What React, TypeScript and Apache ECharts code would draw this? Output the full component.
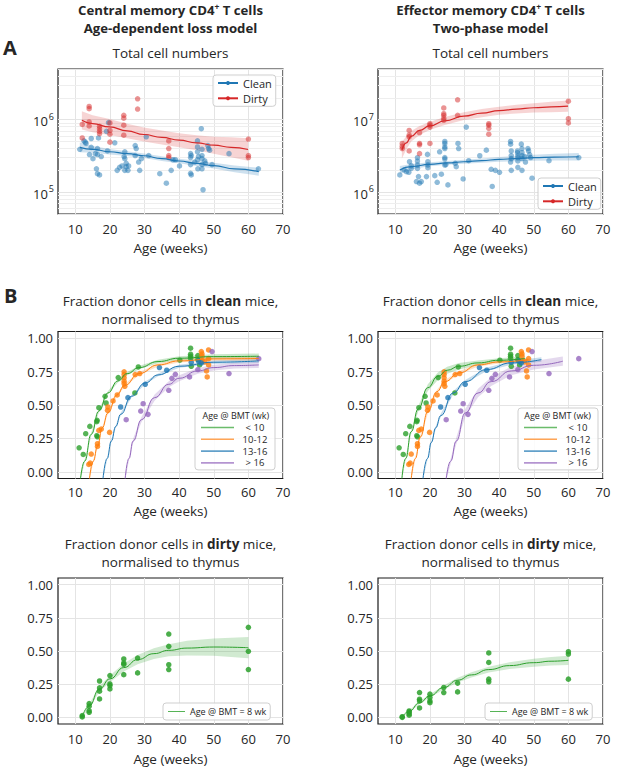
import React, { useEffect, useRef } from 'react';
import * as echarts from 'echarts';

const FONT = 'Open Sans';
const INK = '#262626';
const GRID = '#e4e4e4';
const MINOR = '#eeeeee';
const BLUE = '#1f77b4';
const RED = '#d62728';
const GREEN = '#2ca02c';
const ORANGE = '#ff7f0e';
const PURPLE = '#9467bd';

// ---------- tick values ----------
const xTicks = [10, 20, 30, 40, 50, 60, 70];
const fracTicks = [0, 0.25, 0.5, 0.75, 1];
const minorCM = [6e4, 7e4, 8e4, 9e4, 2e5, 3e5, 4e5, 5e5, 6e5, 7e5, 8e5, 9e5, 2e6, 3e6, 4e6];
const minorEM = [6e5, 7e5, 8e5, 9e5, 2e6, 3e6, 4e6, 5e6, 6e6, 7e6, 8e6, 9e6, 2e7, 3e7, 4e7];

// ---------- Panel A left: central memory total numbers ----------
const cmCleanPts = [
  [11.3, 3.9e5], [12.5, 5.1e5], [13.1, 4.7e5], [12.9, 4.9e5], [14.6, 5.5e5], [14.6, 4.15e5], [14.1, 3.3e5],
  [15.1, 2.9e5], [15.8, 3.4e5], [16.4, 4.0e5], [16.4, 3.3e5], [16.7, 5.6e5], [17.5, 3.1e5], [16.1, 2.1e5],
  [16.4, 1.8e5], [17.0, 1.73e5], [19.0, 6.9e5], [19.3, 3.7e5], [19.6, 9.1e5], [21.4, 4.8e5], [22.1, 2.0e5],
  [22.8, 2.2e5], [23.5, 2.3e5], [24.1, 3.1e5], [24.3, 3.6e5], [24.3, 2.9e5], [24.3, 2.0e5], [24.7, 2.5e5],
  [24.7, 2.25e5], [25.2, 2.0e5], [25.4, 2.3e5], [27.3, 4.4e5], [27.6, 4.0e5], [27.3, 3.2e5], [28.3, 2.6e5],
  [28.6, 2.0e5], [29.1, 2.9e5], [30.5, 5.8e5], [31.2, 3.2e5], [34.4, 1.8e5], [36.3, 1.33e5], [37.7, 2.0e5],
  [38.2, 2.8e5], [38.9, 2.8e5], [40.1, 2.3e5], [43.3, 3.4e5], [43.3, 3.0e5], [43.5, 3.2e5], [43.3, 2.4e5],
  [43.3, 1.82e5], [43.5, 1.73e5], [44.5, 2.6e5], [45.3, 5.1e5], [45.3, 4.2e5], [45.3, 3.6e5], [45.3, 2.8e5],
  [45.4, 2.1e5], [45.6, 3.1e5], [46.4, 7.5e5], [46.6, 3.9e5], [46.6, 3.2e5], [46.6, 2.9e5], [46.6, 2.4e5],
  [46.6, 2.1e5], [46.9, 1.08e5], [47.4, 2.7e5], [47.6, 2.5e5], [48.3, 4.4e5], [48.5, 4.0e5], [48.8, 3.8e5],
  [49.5, 2.4e5], [54.4, 3.4e5], [62.9, 2.1e5],
];
const cmDirtyPts = [
  [12, 8.6e5], [12, 5.6e5], [14, 1.52e6], [14, 1.42e6], [14, 9.3e5], [14, 8.2e5], [17, 8.1e5], [17, 7.5e5],
  [17, 6.9e5], [17, 6.4e5], [20, 9.0e5], [20, 7.1e5], [20, 6.3e5], [20, 4.9e5], [24, 1.15e6], [24, 1.05e6],
  [24, 8.4e5], [24, 6.1e5], [28, 1.94e6], [28, 1.4e6], [37, 5.1e5], [37, 4.0e5], [37, 3.2e5], [37, 3.0e5],
  [60, 5.4e5], [60, 3.2e5], [60, 3.0e5],
];
const cmCleanFitX = [11.3, 15, 19.9, 25, 29.8, 35, 40, 45, 50, 56, 63];
const cmCleanFitY = [4.14e5, 3.9e5, 3.61e5, 3.4e5, 3.18e5, 2.9e5, 2.69e5, 2.5e5, 2.32e5, 2.1e5, 1.92e5];
const cmCleanFitLo = [3.54e5, 3.51e5, 3.32e5, 3.15e5, 2.96e5, 2.7e5, 2.5e5, 2.3e5, 2.12e5, 1.89e5, 1.69e5];
const cmCleanFitHi = [4.85e5, 4.33e5, 3.93e5, 3.67e5, 3.42e5, 3.12e5, 2.9e5, 2.71e5, 2.54e5, 2.33e5, 2.18e5];
const cmDirtyFitX = [11.9, 15, 19.9, 25, 29.8, 35, 40, 45, 50, 55, 59.9];
const cmDirtyFitY = [9.8e5, 8.8e5, 7.94e5, 7.0e5, 6.24e5, 5.7e5, 5.21e5, 4.8e5, 4.45e5, 4.15e5, 3.88e5];
const cmDirtyFitLo = [7.3e5, 6.7e5, 6.15e5, 5.55e5, 5.0e5, 4.55e5, 4.17e5, 3.78e5, 3.4e5, 3.03e5, 2.71e5];
const cmDirtyFitHi = [1.31e6, 1.15e6, 1.02e6, 8.8e5, 7.8e5, 7.1e5, 6.5e5, 6.1e5, 5.8e5, 5.7e5, 5.55e5];

// ---------- Panel A right: effector memory total numbers ----------
const emCleanPts = [
  [11.3, 1.73e6], [12.5, 2.03e6], [13.2, 1.92e6], [13.9, 1.88e6], [14.1, 2.63e6], [14.6, 2.13e6], [14.6, 2.32e6],
  [16.4, 2.99e6], [16.4, 2.69e6], [16.4, 2.37e6], [16.4, 2.13e6], [16.7, 1.64e6], [16.1, 1.4e6], [17.0, 1.33e6],
  [17.5, 1.4e6], [19.0, 1.64e6], [19.3, 3.32e6], [19.4, 2.63e6], [19.4, 2.37e6], [19.4, 2.18e6], [21.4, 1.69e6],
  [22.1, 1.37e6], [22.8, 3.6e6], [23.3, 1.77e6], [24.3, 5.0e6], [24.3, 4.7e6], [24.3, 4.2e6], [24.3, 4.0e6],
  [24.3, 3.0e6], [24.3, 2.86e6], [24.3, 2.37e6], [24.6, 2.4e6], [25.2, 1.26e6], [27.3, 2.5e6], [27.6, 2.25e6],
  [28.1, 4.7e6], [28.3, 4.0e6], [29.6, 1.52e6], [30.5, 7.9e6], [31.2, 2.72e6], [34.4, 3.18e6], [36.3, 3.8e6],
  [37.7, 2.07e6], [38.0, 1.2e6], [38.9, 2.0e6], [40.1, 1.88e6], [43.3, 5.0e6], [43.3, 4.6e6], [43.5, 3.7e6],
  [43.5, 3.2e6], [43.5, 2.9e6], [43.3, 2.6e6], [43.5, 2.0e6], [45.3, 3.7e6], [45.3, 3.5e6], [45.4, 3.2e6],
  [45.4, 3.0e6], [45.4, 2.7e6], [45.4, 2.2e6], [46.4, 4.6e6], [46.6, 4.0e6], [46.6, 3.5e6], [46.6, 3.2e6],
  [46.6, 2.9e6], [46.6, 2.0e6], [47.4, 3.1e6], [47.6, 2.6e6], [48.3, 4.0e6], [48.5, 3.7e6], [48.8, 3.3e6],
  [49.1, 3.0e6], [49.5, 1.56e6], [54.4, 2.72e6], [63.0, 3.0e6],
];
const emDirtyPts = [
  [12, 4.7e6], [12, 4.0e6], [12, 4.3e6], [14, 7.1e6], [14, 6.1e6], [14, 5.8e6], [14, 3.7e6], [17, 6.6e6],
  [17, 4.7e6], [17, 4.5e6], [17, 3.4e6], [20, 8.8e6], [20, 8.4e6], [20, 7.9e6], [20, 4.7e6], [24, 1.45e7],
  [24, 1.21e7], [24, 1.15e7], [24, 1.05e7], [24, 9.8e6], [28, 1.88e7], [28, 1.15e7], [37, 8.8e6], [37, 8.4e6],
  [37, 7.6e6], [37, 6.3e6], [60, 1.8e7], [60, 1.03e7], [60, 9.0e6],
];
const emCleanFitX = [11.3, 14.6, 19.9, 25, 29.8, 35, 40, 45, 50, 56, 63];
const emCleanFitY = [2.02e6, 2.25e6, 2.42e6, 2.53e6, 2.63e6, 2.73e6, 2.83e6, 2.91e6, 2.99e6, 3.04e6, 3.08e6];
const emCleanFitLo = [1.78e6, 2.07e6, 2.27e6, 2.38e6, 2.47e6, 2.55e6, 2.63e6, 2.67e6, 2.72e6, 2.74e6, 2.74e6];
const emCleanFitHi = [2.29e6, 2.45e6, 2.58e6, 2.69e6, 2.8e6, 2.92e6, 3.05e6, 3.17e6, 3.29e6, 3.38e6, 3.46e6];
const emDirtyFitX = [11.9, 13.2, 14.6, 17.0, 19.9, 24.3, 29.8, 35, 40, 45, 50, 55, 59.9];
const emDirtyFitY = [3.8e6, 4.8e6, 5.9e6, 7.1e6, 8.2e6, 9.6e6, 1.12e7, 1.23e7, 1.33e7, 1.4e7, 1.46e7, 1.5e7, 1.54e7];
const emDirtyFitLo = [2.92e6, 3.9e6, 5.0e6, 6.17e6, 7.22e6, 8.46e6, 9.87e6, 1.08e7, 1.17e7, 1.22e7, 1.26e7, 1.27e7, 1.29e7];
const emDirtyFitHi = [4.94e6, 5.9e6, 6.96e6, 8.17e6, 9.3e6, 1.09e7, 1.27e7, 1.4e7, 1.51e7, 1.61e7, 1.69e7, 1.77e7, 1.84e7];

// ---------- Panel B: fraction donor cells, clean mice (same data both models) ----------
const fracLt10Pts = [
  [11.1, 0.18], [12.3, 0.13], [13.0, 0.285], [14.2, 0.34], [16.2, 0.375], [16.3, 0.385], [16.2, 0.27], [16.4, 0.262],
  [16.8, 0.48], [18.6, 0.565], [18.9, 0.515], [22.4, 0.705], [27.2, 0.59], [28.2, 0.785], [40.2, 0.835],
  [43.3, 0.925], [43.3, 0.88], [43.3, 0.865], [43.3, 0.85], [43.5, 0.79], [45.4, 0.87], [45.4, 0.84], [45.9, 0.8],
];
const frac1012Pts = [
  [13.9, 0.055], [14.3, 0.065], [14.6, 0.133], [16.4, 0.19], [16.4, 0.21], [16.8, 0.31], [17.5, 0.32],
  [19.3, 0.46], [19.4, 0.485], [19.9, 0.295], [20.9, 0.53], [22.1, 0.575], [24.1, 0.748], [24.1, 0.728],
  [24.1, 0.703], [24.1, 0.678], [24.1, 0.66], [24.3, 0.64], [27.3, 0.728], [28.6, 0.735], [46.4, 0.9],
  [46.6, 0.882], [46.6, 0.864], [46.6, 0.832], [47.4, 0.822], [47.9, 0.755], [48.1, 0.71], [48.5, 0.912],
  [48.5, 0.847], [48.5, 0.8],
];
const frac1316Pts = [
  [23.1, 0.485], [25.2, 0.555], [30.2, 0.655], [34.3, 0.78], [36.4, 0.76], [43.5, 0.82], [45.6, 0.83], [46.4, 0.815],
];
const fracGt16Pts = [
  [24.7, 0.39], [28.9, 0.455], [29.6, 0.51], [31.0, 0.43], [37.0, 0.61], [37.9, 0.7], [38.9, 0.73], [43.0, 0.71],
  [45.4, 0.765], [49.5, 0.9], [54.4, 0.735], [63.0, 0.847],
];

// central memory fits (age-dependent loss model)
const cmLt10X = [11.5, 12.7, 14.6, 16.8, 19.4, 22.3, 25, 28.4, 33.9, 40, 50, 63];
const cmLt10Y = [-0.05, 0.08, 0.28, 0.455, 0.59, 0.68, 0.735, 0.78, 0.825, 0.85, 0.862, 0.865];
const cmLt10Lo = [-0.06, 0.07, 0.268, 0.443, 0.578, 0.668, 0.723, 0.768, 0.812, 0.835, 0.845, 0.845];
const cmLt10Hi = [-0.04, 0.09, 0.292, 0.467, 0.602, 0.692, 0.747, 0.792, 0.838, 0.865, 0.879, 0.885];
const cm1012X = [14.1, 15.2, 16.4, 17.8, 19.4, 22, 24.2, 28.4, 33.9, 40, 50, 63];
const cm1012Y = [-0.05, 0.08, 0.19, 0.33, 0.44, 0.575, 0.645, 0.735, 0.8, 0.83, 0.845, 0.848];
const cm1012Lo = [-0.06, 0.07, 0.18, 0.32, 0.43, 0.565, 0.635, 0.725, 0.789, 0.818, 0.832, 0.832];
const cm1012Hi = [-0.04, 0.09, 0.2, 0.34, 0.45, 0.585, 0.655, 0.745, 0.811, 0.842, 0.858, 0.864];
const cm1316X = [18.0, 19.2, 20.4, 21.7, 23.1, 26.2, 30.2, 33.9, 40, 50, 63];
const cm1316Y = [-0.05, 0.1, 0.23, 0.34, 0.43, 0.565, 0.665, 0.725, 0.79, 0.82, 0.83];
const cm1316Lo = [-0.06, 0.09, 0.22, 0.33, 0.42, 0.555, 0.655, 0.715, 0.779, 0.807, 0.815];
const cm1316Hi = [-0.04, 0.11, 0.24, 0.35, 0.44, 0.575, 0.675, 0.735, 0.801, 0.833, 0.845];
const cmGt16X = [24.4, 25.5, 26.7, 29.1, 32.9, 37, 40, 45.4, 50, 56, 63];
const cmGt16Y = [-0.05, 0.1, 0.23, 0.39, 0.555, 0.655, 0.7, 0.755, 0.78, 0.795, 0.8];
const cmGt16Lo = [-0.065, 0.085, 0.213, 0.37, 0.532, 0.632, 0.677, 0.733, 0.758, 0.773, 0.777];
const cmGt16Hi = [-0.035, 0.115, 0.247, 0.41, 0.578, 0.678, 0.723, 0.777, 0.802, 0.817, 0.823];

// effector memory fits (two-phase model)
const emLt10X = [11.9, 13, 14.6, 16.6, 19.4, 22.3, 25, 28.4, 33.9, 40, 47.5];
const emLt10Y = [-0.05, 0.1, 0.3, 0.47, 0.63, 0.715, 0.76, 0.79, 0.815, 0.835, 0.848];
const emLt10Lo = [-0.06, 0.09, 0.285, 0.45, 0.605, 0.687, 0.733, 0.766, 0.797, 0.82, 0.832];
const emLt10Hi = [-0.04, 0.11, 0.315, 0.49, 0.655, 0.743, 0.787, 0.814, 0.833, 0.85, 0.864];
const em1012X = [14.6, 15.8, 17.2, 19.4, 22, 24.3, 28.4, 33.9, 40, 48.4];
const em1012Y = [-0.05, 0.1, 0.26, 0.45, 0.6, 0.675, 0.74, 0.8, 0.822, 0.84];
const em1012Lo = [-0.06, 0.09, 0.248, 0.437, 0.587, 0.662, 0.728, 0.789, 0.811, 0.828];
const em1012Hi = [-0.04, 0.11, 0.272, 0.463, 0.613, 0.688, 0.752, 0.811, 0.833, 0.852];
const em1316X = [18.0, 19.3, 20.4, 21.7, 23.1, 26.7, 30.2, 36.3, 43.5, 52.2];
const em1316Y = [-0.05, 0.1, 0.22, 0.33, 0.42, 0.59, 0.675, 0.765, 0.815, 0.84];
const em1316Lo = [-0.06, 0.09, 0.21, 0.318, 0.408, 0.577, 0.662, 0.752, 0.801, 0.823];
const em1316Hi = [-0.04, 0.11, 0.23, 0.342, 0.432, 0.603, 0.688, 0.778, 0.829, 0.857];
const emGt16X = [24.7, 26, 27.6, 30.2, 33.9, 37.7, 43.5, 50, 58.4];
const emGt16Y = [-0.05, 0.08, 0.23, 0.44, 0.59, 0.675, 0.755, 0.797, 0.828];
const emGt16Lo = [-0.065, 0.06, 0.205, 0.41, 0.558, 0.643, 0.723, 0.765, 0.793];
const emGt16Hi = [-0.035, 0.1, 0.255, 0.47, 0.622, 0.707, 0.787, 0.829, 0.863];

// ---------- Panel B bottom: dirty mice ----------
const cmDirtyFracPts = [
  [12, 0.013], [12, 0.003], [14, 0.038], [14, 0.05], [14, 0.104], [14, 0.084], [17, 0.274], [17, 0.222],
  [17, 0.197], [17, 0.139], [20, 0.315], [20, 0.252], [20, 0.24], [20, 0.214], [24, 0.44], [24, 0.41],
  [24, 0.4], [24, 0.322], [28, 0.447], [28, 0.335], [37, 0.628], [37, 0.535], [37, 0.397], [37, 0.36],
  [60, 0.678], [60, 0.498], [60, 0.36],
];
const emDirtyFracPts = [
  [12, 0.005], [12, 0.0], [14, 0.041], [14, 0.028], [14, 0.016], [14, 0.048], [17, 0.187], [17, 0.137],
  [17, 0.124], [17, 0.071], [20, 0.175], [20, 0.15], [20, 0.124], [20, 0.111], [24, 0.225], [24, 0.187],
  [28, 0.258], [28, 0.192], [37, 0.485], [37, 0.414], [37, 0.288], [37, 0.268], [60, 0.495], [60, 0.477],
  [60, 0.288],
];
const cmDirtyFracX = [12, 14, 17, 20, 24, 28, 32.7, 37, 42.3, 50, 60];
const cmDirtyFracY = [0.005, 0.085, 0.215, 0.29, 0.375, 0.435, 0.48, 0.505, 0.522, 0.53, 0.525];
const cmDirtyFracLo = [0.0, 0.07, 0.195, 0.265, 0.345, 0.4, 0.44, 0.46, 0.467, 0.465, 0.445];
const cmDirtyFracHi = [0.01, 0.1, 0.235, 0.315, 0.405, 0.47, 0.52, 0.55, 0.577, 0.595, 0.605];
const emDirtyFracX = [12, 14, 17, 20, 24, 28, 32, 37, 43, 50, 55, 60];
const emDirtyFracY = [0.003, 0.045, 0.11, 0.162, 0.225, 0.28, 0.32, 0.36, 0.39, 0.412, 0.423, 0.43];
const emDirtyFracLo = [0.0, 0.037, 0.1, 0.15, 0.21, 0.262, 0.3, 0.338, 0.364, 0.382, 0.391, 0.395];
const emDirtyFracHi = [0.006, 0.053, 0.12, 0.174, 0.24, 0.298, 0.34, 0.382, 0.416, 0.442, 0.455, 0.465];

const bmtGroups = ['< 10', '10-12', '13-16', '> 16'];
const dirtyLabel = 'Age @ BMT = 8 wk';

// ---------- helpers ----------
const pairs = (xs: number[], ys: number[]) => xs.map((x, i) => [x, ys[i]]);

function scatter(gi: number, data: number[][], color: string, opacity: number, minor?: number[]) {
  const s: any = {
    type: 'scatter', xAxisIndex: gi, yAxisIndex: gi, data, symbolSize: 5.5, silent: true, z: 3,
    itemStyle: { color, opacity },
  };
  if (minor) {
    s.markLine = {
      silent: true, symbol: ['none', 'none'], z: 1, animation: false,
      label: { show: false }, emphasis: { disabled: true },
      lineStyle: { color: MINOR, width: 1, type: 'solid' },
      data: minor.map((v) => ({ yAxis: v })),
    };
  }
  return s;
}
function fit(name: string, gi: number, xs: number[], ys: number[], color: string, width = 1.2) {
  return {
    type: 'line', name, xAxisIndex: gi, yAxisIndex: gi, data: pairs(xs, ys), smooth: true, smoothMonotone: 'x',
    symbol: 'circle', showSymbol: false, silent: true, z: 4, clip: true,
    lineStyle: { color, width }, itemStyle: { color },
  };
}
function band(gi: number, xs: number[], lo: number[], hi: number[], color: string, opacity: number) {
  return {
    type: 'custom', xAxisIndex: gi, yAxisIndex: gi, silent: true, z: 2, clip: true,
    data: xs.map((x, i) => [x, lo[i], hi[i]]),
    encode: { x: 0, y: [1, 2] },
    renderItem: (params: any, api: any) => {
      if (params.dataIndex !== 0) return null;
      const top = xs.map((x, i) => api.coord([x, hi[i]]));
      const bot = xs.map((x, i) => api.coord([x, lo[i]])).reverse();
      return { type: 'polygon', shape: { points: top.concat(bot) }, style: { fill: color, opacity } };
    },
  };
}

const LOG_RICH = {
  b: { fontFamily: FONT, fontSize: 13, color: INK, verticalAlign: 'bottom' },
  s: { fontFamily: FONT, fontSize: 9, color: INK, verticalAlign: 'top', padding: [0, 0, 7, 1] },
};
const splitLine = { show: true, lineStyle: { color: GRID, width: 1 } };

function xAx(gi: number, nameGap: number, margin: number) {
  return {
    type: 'value', gridIndex: gi, min: 5, max: 70,
    name: 'Age (weeks)', nameLocation: 'middle', nameGap,
    nameTextStyle: { fontFamily: FONT, fontSize: 13.5, color: INK },
    axisLine: { show: false },
    axisTick: { show: false, customValues: xTicks },
    axisLabel: { customValues: xTicks, margin, fontFamily: FONT, fontSize: 13, color: INK },
    splitLine,
  };
}
function logY(gi: number, min: number, max: number) {
  return {
    type: 'log', logBase: 10, gridIndex: gi, min, max,
    axisLine: { show: false }, axisTick: { show: false },
    axisLabel: {
      margin: 4,
      formatter: (v: number) => {
        const e = Math.log10(v);
        const r = Math.round(e);
        return Math.abs(e - r) < 1e-6 ? `{b|10}{s|${r}}` : '';
      },
      rich: LOG_RICH,
    },
    splitLine,
  };
}
function fracY(gi: number) {
  return {
    type: 'value', gridIndex: gi, min: -0.05, max: 1.05,
    axisLine: { show: false },
    axisTick: { show: false, customValues: fracTicks },
    axisLabel: {
      customValues: fracTicks, margin: 5, fontFamily: FONT, fontSize: 13, color: INK,
      formatter: (v: number) => v.toFixed(2),
    },
    splitLine,
  };
}

function txt(text: string, x: number, y: number, size: number, bold = false, align = 'center', rich?: any) {
  return {
    type: 'text', x, y, z: 100, silent: true,
    style: {
      text, fontFamily: FONT, fontSize: size, fontWeight: bold ? 'bold' : 'normal', fill: INK,
      align, verticalAlign: 'middle', textAlign: align, textVerticalAlign: 'middle', rich,
    },
  };
}
const boldRich = { bd: { fontFamily: FONT, fontSize: 13.5, fontWeight: 'bold', fill: INK } };
const headRich = {
  h: { fontFamily: FONT, fontSize: 13.2, fontWeight: 'bold', fill: INK, verticalAlign: 'bottom' },
  s: { fontFamily: FONT, fontSize: 8.5, fontWeight: 'bold', fill: INK, verticalAlign: 'top', padding: [0, 0, 6, 0] },
};

const legendBase = {
  orient: 'vertical', selectedMode: false, z: 10,
  backgroundColor: 'rgba(255,255,255,0.85)', borderColor: '#cfcfcf', borderWidth: 1, borderRadius: 3,
};
const cleanDirtyLegend = (left: number, top: number) => ({
  ...legendBase, left, top, data: ['Clean', 'Dirty'], padding: [1, 4, 1, 4], itemGap: 1.3,
  itemWidth: 20, itemHeight: 5, itemTextGap: 6,
  textStyle: { fontFamily: FONT, fontSize: 11, color: INK, lineHeight: 14 },
});
const bmtLegend = (left: number, top: number) => ({
  ...legendBase, left, top, padding: [14.5, 4, 2, 6], itemGap: 1.8,
  data: bmtGroups.map((n) => ({ name: n, icon: 'rect' })),
  itemWidth: 33, itemHeight: 1.6, itemTextGap: 4, itemStyle: { opacity: 0.7 },
  formatter: (n: string) => `{t|${n}}`,
  textStyle: {
    fontFamily: FONT, fontSize: 9.5, color: INK,
    rich: { t: { width: 32, align: 'center', fontFamily: FONT, fontSize: 9.5, color: INK, lineHeight: 11.4 } },
  },
});
const dirtyLegend = (left: number, top: number) => ({
  ...legendBase, left, top, padding: [3, 4, 3, 5],
  data: [{ name: dirtyLabel, icon: 'rect' }],
  itemWidth: 17, itemHeight: 1, itemTextGap: 3, itemStyle: { opacity: 0.8 },
  textStyle: { fontFamily: FONT, fontSize: 9, color: INK, lineHeight: 11 },
});

function buildOption() {
  const grids = [
    { left: 58, top: 69, width: 225, height: 145 },
    { left: 378, top: 69, width: 225, height: 145 },
    { left: 58, top: 331.5, width: 225, height: 147 },
    { left: 378, top: 331.5, width: 225, height: 147 },
    { left: 58, top: 578, width: 225, height: 146 },
    { left: 378, top: 578, width: 225, height: 146 },
  ].map((g) => ({ ...g, show: true, borderColor: '#1a1a1a', borderWidth: 1.2, backgroundColor: '#ffffff', containLabel: false }));

  const series: any[] = [
    // A left
    band(0, cmCleanFitX, cmCleanFitLo, cmCleanFitHi, BLUE, 0.22),
    band(0, cmDirtyFitX, cmDirtyFitLo, cmDirtyFitHi, RED, 0.2),
    scatter(0, cmCleanPts, BLUE, 0.5, minorCM),
    scatter(0, cmDirtyPts, RED, 0.5),
    fit('Clean', 0, cmCleanFitX, cmCleanFitY, BLUE),
    fit('Dirty', 0, cmDirtyFitX, cmDirtyFitY, RED),
    // A right
    band(1, emCleanFitX, emCleanFitLo, emCleanFitHi, BLUE, 0.22),
    band(1, emDirtyFitX, emDirtyFitLo, emDirtyFitHi, RED, 0.2),
    scatter(1, emCleanPts, BLUE, 0.5, minorEM),
    scatter(1, emDirtyPts, RED, 0.5),
    fit('Clean', 1, emCleanFitX, emCleanFitY, BLUE),
    fit('Dirty', 1, emDirtyFitX, emDirtyFitY, RED),
    // B left (central memory)
    band(2, cmLt10X, cmLt10Lo, cmLt10Hi, GREEN, 0.25),
    band(2, cm1012X, cm1012Lo, cm1012Hi, ORANGE, 0.25),
    band(2, cm1316X, cm1316Lo, cm1316Hi, BLUE, 0.25),
    band(2, cmGt16X, cmGt16Lo, cmGt16Hi, PURPLE, 0.25),
    scatter(2, fracLt10Pts, GREEN, 0.8),
    scatter(2, frac1012Pts, ORANGE, 0.8),
    scatter(2, frac1316Pts, BLUE, 0.8),
    scatter(2, fracGt16Pts, PURPLE, 0.8),
    fit(bmtGroups[0], 2, cmLt10X, cmLt10Y, GREEN, 1),
    fit(bmtGroups[1], 2, cm1012X, cm1012Y, ORANGE, 1),
    fit(bmtGroups[2], 2, cm1316X, cm1316Y, BLUE, 1),
    fit(bmtGroups[3], 2, cmGt16X, cmGt16Y, PURPLE, 1),
    // B right (effector memory)
    band(3, emLt10X, emLt10Lo, emLt10Hi, GREEN, 0.25),
    band(3, em1012X, em1012Lo, em1012Hi, ORANGE, 0.25),
    band(3, em1316X, em1316Lo, em1316Hi, BLUE, 0.25),
    band(3, emGt16X, emGt16Lo, emGt16Hi, PURPLE, 0.25),
    scatter(3, fracLt10Pts, GREEN, 0.8),
    scatter(3, frac1012Pts, ORANGE, 0.8),
    scatter(3, frac1316Pts, BLUE, 0.8),
    scatter(3, fracGt16Pts, PURPLE, 0.8),
    fit(bmtGroups[0], 3, emLt10X, emLt10Y, GREEN, 1),
    fit(bmtGroups[1], 3, em1012X, em1012Y, ORANGE, 1),
    fit(bmtGroups[2], 3, em1316X, em1316Y, BLUE, 1),
    fit(bmtGroups[3], 3, emGt16X, emGt16Y, PURPLE, 1),
    // C left / right (dirty)
    band(4, cmDirtyFracX, cmDirtyFracLo, cmDirtyFracHi, GREEN, 0.22),
    scatter(4, cmDirtyFracPts, GREEN, 0.85),
    fit(dirtyLabel, 4, cmDirtyFracX, cmDirtyFracY, GREEN, 1),
    band(5, emDirtyFracX, emDirtyFracLo, emDirtyFracHi, GREEN, 0.22),
    scatter(5, emDirtyFracPts, GREEN, 0.85),
    fit(dirtyLabel, 5, emDirtyFracX, emDirtyFracY, GREEN, 1),
  ];

  const graphic = [
    txt('{h|Central memory CD4}{s|+}{h| T cells}', 170.5, 9, 13.2, true, 'center', headRich),
    txt('Age-dependent loss model', 170.5, 27.5, 13.2, true),
    txt('{h|Effector memory CD4}{s|+}{h| T cells}', 490.5, 9, 13.2, true, 'center', headRich),
    txt('Two-phase model', 490.5, 27.5, 13.2, true),
    txt('A', 3, 47, 20, true, 'left'),
    txt('B', 4, 295, 20, true, 'left'),
    txt('Total cell numbers', 170.5, 53, 13.5),
    txt('Total cell numbers', 490.5, 53, 13.5),
    txt('Fraction donor cells in {bd|clean} mice,', 170.5, 301, 13.5, false, 'center', boldRich),
    txt('normalised to thymus', 170.5, 319.2, 13.5),
    txt('Fraction donor cells in {bd|clean} mice,', 490.5, 301, 13.5, false, 'center', boldRich),
    txt('normalised to thymus', 490.5, 319.2, 13.5),
    txt('Fraction donor cells in {bd|dirty} mice,', 170.5, 544, 13.5, false, 'center', boldRich),
    txt('normalised to thymus', 170.5, 562.2, 13.5),
    txt('Fraction donor cells in {bd|dirty} mice,', 490.5, 544, 13.5, false, 'center', boldRich),
    txt('normalised to thymus', 490.5, 562.2, 13.5),
    txt('Age @ BMT (wk)', 235.8, 415.5, 9),
    txt('Age @ BMT (wk)', 557.5, 415.5, 9),
  ];

  return {
    animation: false,
    backgroundColor: '#ffffff',
    textStyle: { fontFamily: FONT },
    grid: grids,
    xAxis: [xAx(0, 27, 8), xAx(1, 27, 8), xAx(2, 25, 6.5), xAx(3, 25, 6.5), xAx(4, 28, 8), xAx(5, 28, 8)],
    yAxis: [logY(0, 5e4, 5e6), logY(1, 5e5, 5e7), fracY(2), fracY(3), fracY(4), fracY(5)],
    legend: [
      cleanDirtyLegend(213, 75),
      cleanDirtyLegend(538, 178),
      bmtLegend(195, 408),
      bmtLegend(518, 408),
      dirtyLegend(163, 703),
      dirtyLegend(485, 703),
    ],
    series,
    graphic,
  };
}

export default function App() {
  const ref = useRef<HTMLDivElement>(null);
  useEffect(() => {
    if (!ref.current) return;
    const chart = echarts.init(ref.current, null, { renderer: 'svg' });
    chart.setOption(buildOption() as any);
    return () => chart.dispose();
  }, []);
  return <div ref={ref} style={{ position: 'fixed', left: 0, top: 0, width: 617, height: 772, background: '#fff' }} />;
}
